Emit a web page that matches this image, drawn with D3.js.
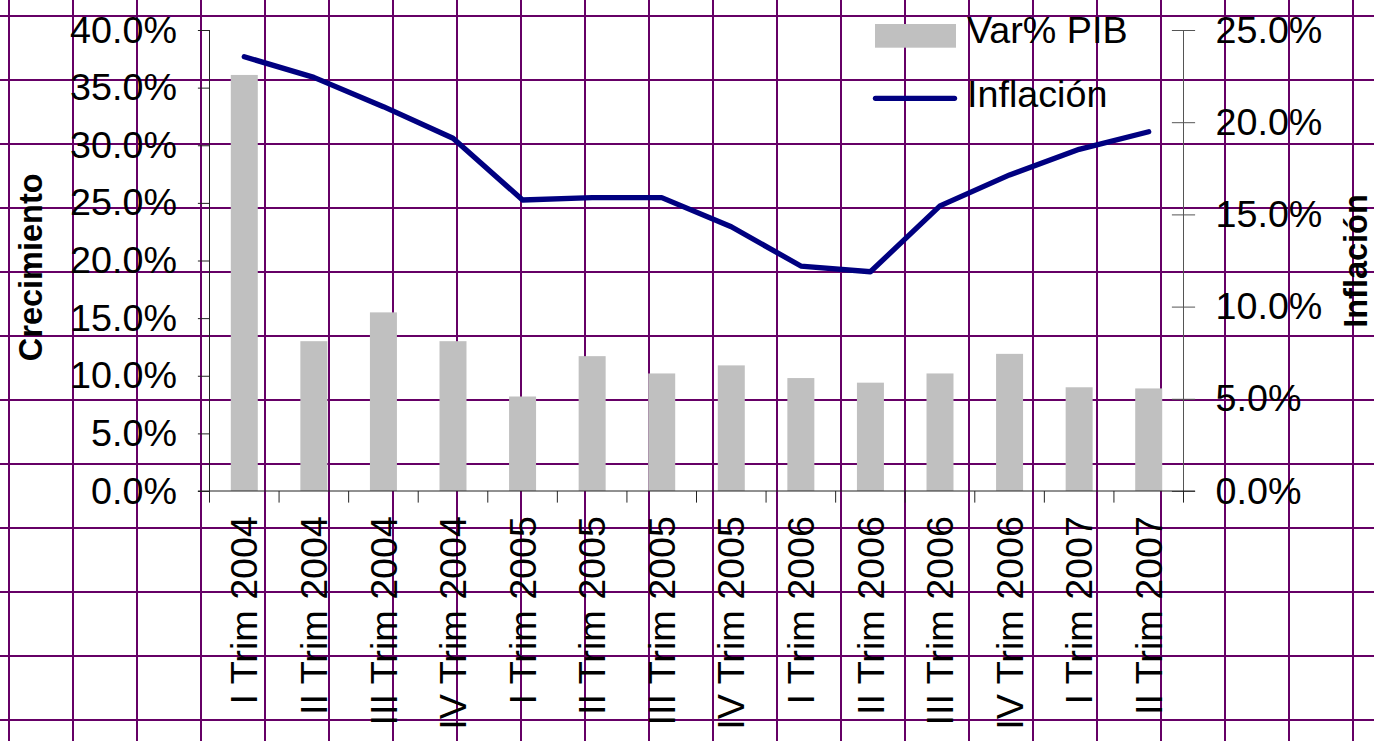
<!DOCTYPE html>
<html>
<head>
<meta charset="utf-8">
<script src="https://cdn.jsdelivr.net/npm/d3@7"></script>
<style>
  html, body { margin: 0; padding: 0; background: #ffffff; }
  svg { display: block; }
  text { font-family: "Liberation Sans", Arial, Helvetica, sans-serif; fill: #000; }
</style>
</head>
<body>
<script>
// ---- data ----
const categories = ["I Trim 2004","II Trim 2004","III Trim 2004","IV Trim 2004",
  "I Trim 2005","II Trim 2005","III Trim 2005","IV Trim 2005",
  "I Trim 2006","II Trim 2006","III Trim 2006","IV Trim 2006",
  "I Trim 2007","II Trim 2007"];
const pibValues = [36.1, 13.0, 15.5, 13.0, 8.2, 11.7, 10.2, 10.9, 9.8, 9.4, 10.2, 11.9, 9.0, 8.9];
const inflacionValues = [23.55, 22.43, 20.84, 19.13, 15.78, 15.91, 15.91, 14.33, 12.20, 11.89, 15.46, 17.14, 18.53, 19.48];
const leftTicks = [0, 5, 10, 15, 20, 25, 30, 35, 40];
const rightTicks = [0, 5, 10, 15, 20, 25];
const seriesNames = ["Var% PIB", "Inflación"];
const leftTitle = "Crecimiento";
const rightTitle = "Inflación";

// ---- layout ----
const W = 1374, H = 741;
const L = 209.5, R = 1183.5, T = 30, B = 491;
const FS = 37.7;

const svg = d3.select("body").append("svg").attr("width", W).attr("height", H);

// spreadsheet grid background
const grid = svg.append("g").attr("stroke", "#660066").attr("stroke-width", 2).attr("shape-rendering", "crispEdges");
grid.selectAll("line.v").data(d3.range(0, 22)).join("line")
  .attr("x1", k => 9 + 64 * k).attr("x2", k => 9 + 64 * k)
  .attr("y1", 0).attr("y2", H);
grid.selectAll("line.h").data(d3.range(0, 12)).join("line")
  .attr("y1", k => Math.round(15.7 + 64.03 * k)).attr("y2", k => Math.round(15.7 + 64.03 * k))
  .attr("x1", 0).attr("x2", W);

// scales
const x = d3.scaleBand().domain(categories).range([L, R]).paddingInner(0.612).paddingOuter(0.306);
const yL = d3.scaleLinear().domain([0, 40]).range([B, T]);
const yR = d3.scaleLinear().domain([0, 25]).range([B, T]);
const step = x.step();

// bars
svg.append("g").selectAll("rect").data(categories).join("rect")
  .attr("x", d => x(d))
  .attr("width", x.bandwidth())
  .attr("y", (d, i) => yL(pibValues[i]))
  .attr("height", (d, i) => B - yL(pibValues[i]))
  .attr("fill", "#c0c0c0");

// left axis
const axL = svg.append("g").attr("transform", `translate(${L},0)`)
  .call(d3.axisLeft(yL).tickValues(leftTicks).tickSize(11.6).tickPadding(21)
    .tickFormat(d => d.toFixed(1) + "%"));
axL.select(".domain").attr("stroke", "#222").attr("d", `M0,${T}V${B}`);
axL.selectAll(".tick line").attr("stroke", "#222");
axL.selectAll(".tick text").attr("font-size", FS).style("font-family", '"Liberation Sans", Arial, sans-serif').attr("fill", "#000");

// right axis
const axR = svg.append("g").attr("transform", `translate(${R},0)`)
  .call(d3.axisRight(yR).tickValues(rightTicks).tickSize(11.6).tickPadding(20.4)
    .tickFormat(d => d.toFixed(1) + "%"));
axR.select(".domain").attr("stroke", "#555").attr("d", `M0,${T}V${B}`);
axR.selectAll(".tick line").attr("stroke", "#555").attr("x1", -11.6).attr("x2", 11.6);
axR.selectAll(".tick text").attr("font-size", FS).style("font-family", '"Liberation Sans", Arial, sans-serif').attr("fill", "#000");

// x axis
const xg = svg.append("g");
xg.append("line").attr("x1", L - 11.6).attr("x2", R + 11.6).attr("y1", B).attr("y2", B)
  .attr("stroke", "#222");
const boundaries = categories.map(d => x(d) - step * x.paddingInner() / 2).concat([R]);
xg.selectAll("line.t").data(boundaries).join("line")
  .attr("x1", d => d).attr("x2", d => d).attr("y1", B).attr("y2", B + 11.6)
  .attr("stroke", "#222");
xg.selectAll("text").data(categories).join("text")
  .attr("transform", d => `translate(${x(d) + x.bandwidth() / 2},516) rotate(-90)`)
  .attr("text-anchor", "end")
  .attr("dy", "0.35em")
  .attr("font-size", FS)
  .text(d => d);

// inflation line
const line = d3.line()
  .x((d, i) => x(categories[i]) + x.bandwidth() / 2)
  .y(d => yR(d));
svg.append("path").datum(inflacionValues)
  .attr("d", line)
  .attr("fill", "none")
  .attr("stroke", "#000080")
  .attr("stroke-width", 5.3)
  .attr("stroke-linejoin", "round")
  .attr("stroke-linecap", "round");

// axis titles
svg.append("text")
  .attr("transform", "translate(41.7,267.3) rotate(-90)")
  .attr("text-anchor", "middle")
  .attr("font-size", 32.5).attr("font-weight", "bold")
  .text(leftTitle);
svg.append("text")
  .attr("transform", "translate(1366.5,261) rotate(-90)")
  .attr("text-anchor", "middle")
  .attr("font-size", 32.5).attr("font-weight", "bold")
  .text(rightTitle);

// legend
const lg = svg.append("g");
lg.append("rect").attr("x", 875).attr("y", 24).attr("width", 81).attr("height", 23.7).attr("fill", "#c0c0c0");
lg.append("line").attr("x1", 875.5).attr("x2", 954.5).attr("y1", 98.3).attr("y2", 98.3)
  .attr("stroke", "#000080").attr("stroke-width", 5.3).attr("stroke-linecap", "round");
lg.append("text").attr("x", 967).attr("y", 43.3).attr("font-size", FS).text(seriesNames[0]);
lg.append("text").attr("x", 967).attr("y", 106.7).attr("font-size", FS).text(seriesNames[1]);
</script>
</body>
</html>
